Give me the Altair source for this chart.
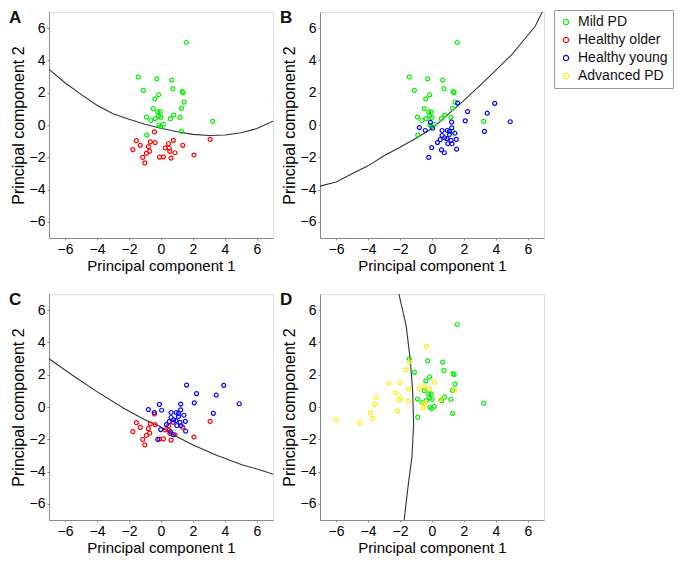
import altair as alt
import pandas as pd

groups = ["Mild PD", "Healthy older", "Healthy young", "Advanced PD"]
colors = ["#00ee00", "#ff0000", "#0000ff", "#ffee00"]

mild_x = [1.58, -1.42, -0.27, 0.67, -1.10, 0.74, 1.32, 1.38, -0.39, -0.15, 1.44, -0.49, 1.28,
          -0.21, -0.05, -0.91, -0.63, -0.37, -0.15, -0.01, 0.59, 0.79, 1.18, 3.23, -0.13, 0.15,
          -0.03, 1.28, -0.89]
mild_y = [5.11, 2.98, 2.86, 2.78, 2.15, 2.25, 2.07, 2.01, 1.62, 1.86, 1.42, 1.01, 1.03,
          0.81, 0.81, 0.49, 0.28, 0.39, 0.55, 0.47, 0.39, 0.61, 0.47, 0.22, 0.00, 0.04,
          -0.10, -0.39, -0.63]

older_x = [-0.41, 3.07, -1.54, -0.67, -0.37, 0.77, -1.30, 0.47, 1.36, -0.79, 0.51, 0.27,
           -1.76, -0.71, 0.55, -0.91, 0.87, 2.06, -1.14, -0.09, 0.15, 0.63, -1.01]
older_y = [-0.43, -0.89, -0.97, -1.05, -1.09, -0.95, -1.26, -1.16, -1.26, -1.34, -1.44, -1.42,
           -1.52, -1.62, -1.64, -1.76, -1.72, -1.86, -2.01, -1.99, -1.97, -2.05, -2.35]

young_x = [1.60, 2.22, 3.92, 3.45, 4.89, 2.08, 3.27, -0.79, -0.42, -0.10, 0.04, 1.23, 1.23,
           0.63, 0.95, 1.09, 1.09, 1.43, 0.63, 0.79, 0.93, 1.19, 1.52, 0.51, 0.34, 0.99,
           1.25, -0.02, 0.59, 0.77, 1.54, -0.20]
young_y = [1.36, 0.83, 1.34, 0.73, 0.20, 0.26, -0.39, -0.16, -0.34, 0.16, -0.20, 0.18, -0.18,
           -0.34, -0.34, -0.39, -0.59, -0.51, -0.65, -0.79, -0.85, -0.95, -0.89, -0.91, -1.09,
           -1.16, -1.16, -1.40, -1.54, -1.72, -1.50, -2.01]

adv_x = [-0.34, -1.43, -1.64, -2.69, -2.00, 0.16, -0.48, -2.26, -1.47, -0.81, -0.18, -3.49,
         -1.96, -2.06, -1.49, -0.46, -0.55, 0.53, 1.41, -3.58, -2.16, -3.84, -3.72, -4.53,
         -6.00, -0.50]
adv_y = [3.76, 2.78, 2.32, 1.46, 1.50, 1.52, 1.30, 0.89, 1.12, 1.14, 1.14, 0.59,
         0.59, 0.43, 0.37, 0.24, -0.06, 0.47, 1.04, 0.16, -0.24, -0.35, -0.71, -1.00,
         -0.78, 0.18]

curve_a_x = [-7, -6, -5, -4, -3, -2, -1, 0, 1, 2, 3, 4, 5, 6, 7]
curve_a_y = [3.45, 2.62, 1.90, 1.22, 0.70, 0.36, 0.05, -0.20, -0.42, -0.58, -0.65, -0.62,
             -0.48, -0.22, 0.24]
curve_b_x = [-7, -6, -5, -4, -3, -2, -1, 0, 1, 2, 3, 4, 5, 5.84, 6.44, 6.89]
curve_b_y = [-3.79, -3.53, -3.02, -2.53, -1.90, -1.38, -0.82, -0.22, 0.66, 1.52, 2.46, 3.40,
             4.38, 5.39, 6.10, 7.0]
curve_c_x = [-7.0, -5.6, -4.08, -2.25, -1.04, 0.0, 1.0, 2.01, 3.43, 5.06, 6.27, 7.0]
curve_c_y = [2.99, 2.01, 1.0, -0.12, -0.77, -1.24, -1.85, -2.36, -2.97, -3.58, -3.92, -4.17]
curve_d_x = [-2.07, -1.62, -1.37, -1.21, -1.15, -1.25, -1.52, -1.74]
curve_d_y = [7.0, 5.06, 3.03, 1.0, -1.04, -3.07, -5.10, -7.0]

tick_vals = [-6, -4, -2, 0, 2, 4, 6]

rows = []
for g, xs, ys in [("Mild PD", mild_x, mild_y), ("Healthy older", older_x, older_y),
                  ("Healthy young", young_x, young_y), ("Advanced PD", adv_x, adv_y)]:
    for a, b in zip(xs, ys):
        rows.append({"group": g, "x": a, "y": b})
points = pd.DataFrame(rows)

def curve_df(xs, ys):
    return pd.DataFrame({"x": xs, "y": ys, "i": list(range(len(xs)))})

FONT = "Liberation Sans"
scale = alt.Scale(domain=[-7, 7], nice=False, zero=False)
xaxis = alt.Axis(values=tick_vals, title="Principal component 1", grid=False, tickSize=2,
                 labelPadding=2, titlePadding=2, titleFontSize=15, labelFontSize=14,
                 titleFontWeight="normal")
yaxis = alt.Axis(values=tick_vals, title="Principal component 2", grid=False, tickSize=2,
                 labelPadding=2, titlePadding=3, titleFontSize=16, labelFontSize=14,
                 titleFontWeight="normal")

legend = alt.Legend(title=None, orient="none", legendX=505, legendY=-2, symbolType="circle",
                    symbolSize=28, symbolStrokeWidth=1.2, labelFontSize=14, labelFont=FONT,
                    labelColor="#111", strokeColor="#999", fillColor="white", padding=5,
                    labelOffset=5, rowPadding=4, symbolFillColor="white")

def panel(letter, grps, cx, cy):
    line = alt.Chart(curve_df(cx, cy)).mark_line(color="#333", strokeWidth=1.1, clip=True).encode(
        x=alt.X("x:Q", scale=scale, axis=xaxis),
        y=alt.Y("y:Q", scale=scale, axis=yaxis),
        order="i:Q",
    )
    pts = alt.Chart(points).transform_filter(
        alt.FieldOneOfPredicate(field="group", oneOf=grps)
    ).mark_point(shape="circle", filled=False, size=16, strokeWidth=1.2, opacity=1).encode(
        x=alt.X("x:Q", scale=scale, axis=xaxis),
        y=alt.Y("y:Q", scale=scale, axis=yaxis),
        color=alt.Color("group:N", scale=alt.Scale(domain=groups, range=colors), legend=legend),
    )
    return alt.layer(line, pts).properties(
        width=224, height=226,
        title=alt.TitleParams(text=letter, anchor="start", fontSize=17, fontWeight="bold",
                              font=FONT, color="#111", dx=-1, offset=-15),
    )

pa = panel("A", ["Mild PD", "Healthy older"], curve_a_x, curve_a_y)
pb = panel("B", ["Mild PD", "Healthy young"], curve_b_x, curve_b_y)
pc = panel("C", ["Healthy older", "Healthy young"], curve_c_x, curve_c_y)
pd_ = panel("D", ["Advanced PD", "Mild PD"], curve_d_x, curve_d_y)

chart = alt.concat(pa, pb, pc, pd_, columns=2, spacing=alt.RowColnumber(row=16, column=5)
                   if hasattr(alt, "RowColnumber") else 10).resolve_scale(color="shared").properties(
    padding=0
).configure_view(stroke=None).configure_axis(
    domainColor="#444", tickColor="#444", labelColor="#222", titleColor="#222",
    labelFont=FONT, titleFont=FONT,
).configure(background="white")

chart.save("out.html", embed_options={"renderer": "svg", "actions": False})
